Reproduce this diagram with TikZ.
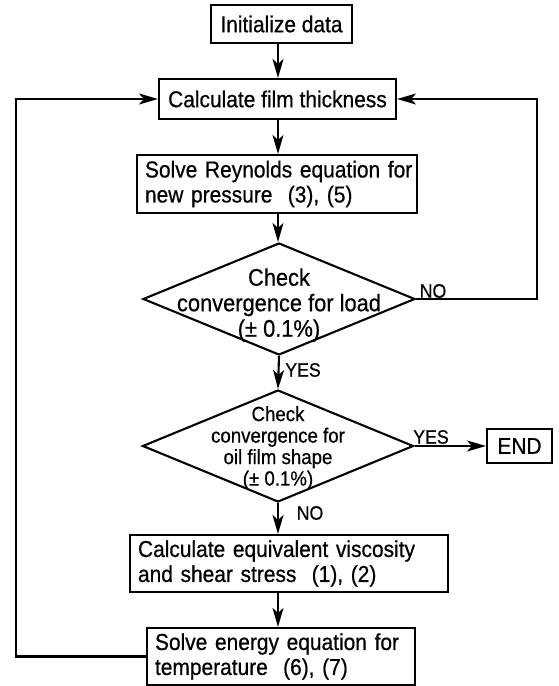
\documentclass[tikz,border=0pt]{standalone}
\usepackage{fontspec}
\setmainfont{Liberation Sans}[FakeStretch=0.91,FakeBold=0.6]
\usetikzlibrary{shapes.geometric,arrows.meta}

\begin{document}
\begin{tikzpicture}[x=1pt,y=-1pt,
  line width=2.1pt,
  every node/.style={font=\fontsize{23}{25}\selectfont},
  arr/.style={-{Stealth[length=19pt,width=11pt,inset=5pt]}},
  box/.style={draw,rectangle,inner sep=0pt,align=center},
  lbox/.style={draw,rectangle,inner xsep=8pt,inner ysep=0pt,align=left},
  decision/.style={draw,diamond,inner sep=0pt},
  dtext/.style={align=center,inner sep=0pt},
  tag/.style={inner sep=0pt,font=\fontsize{19.5}{20}\selectfont}
]
\useasboundingbox (0,0) rectangle (559,686);

% spine of the vertical flow and the two return lines
\coordinate (sp) at (278,0);
\coordinate (rr) at (537,0);
\coordinate (lr) at (16,0);

% process boxes
\node[box,minimum width=141pt,minimum height=38pt] (init) at (281.5,24) {Initialize data};
\node[box,minimum width=237pt,minimum height=40pt] (film) at (277.5,99) {Calculate film thickness};
\node[lbox,text width=264pt,minimum height=58pt] (reyn) at (277,184)
  {\mbox{Solve Reynolds equation for}\\\mbox{new pressure\ \ (3), (5)}};

% decisions
\node[decision,minimum width=272pt,minimum height=112pt] (load) at (279,299) {};
\node[dtext,font=\fontsize{24}{25.5}\selectfont] (loadt) at (279,305)
  {Check\\convergence for load\\(± 0.1\%)};
\node[decision,minimum width=271pt,minimum height=112pt] (shape) at (278,446) {};
\node[dtext,font=\fontsize{20.5}{21.5}\selectfont] (shapet) at (278,448)
  {Check\\convergence for\\oil film shape\\(± 0.1\%)};

\node[box,minimum width=65pt,minimum height=34pt] (end) at (519.5,446) {END};

\node[lbox,text width=302pt,minimum height=57pt] (visc) at (289,563.5)
  {\mbox{Calculate equivalent viscosity}\\\mbox{and shear stress\ \ (1), (2)}};
\node[lbox,text width=252pt,minimum height=57pt] (energy) at (281,656.5)
  {\mbox{Solve energy equation for}\\\mbox{temperature\ \ (6), (7)}};

% main flow
\draw[arr] (init.south -| sp) -- (film.north -| sp);
\draw[arr] (film.south -| sp) -- (reyn.north -| sp);
\draw[arr] (reyn.south -| sp) -- (load.north -| sp);
\draw[arr] (load.south) -- (shape.north);
\draw[arr] (shape.south) -- (visc.north -| sp);
\draw[arr] (visc.south -| sp) -- (energy.north -| sp);
\draw[arr] (shape.east) -- (end.west);

% return loops
\draw[arr] (load.east) -- (load.east -| rr) |- (film.east);
\draw[arr] (energy.west) -- (energy.west -| lr) |- (film.west);

% branch labels
\node[tag] (yes1) at (303,370) {YES};
\node[tag] (no1) at (433,291) {NO};
\node[tag] (yes2) at (431,437) {YES};
\node[tag] (no2) at (310,513) {NO};
\end{tikzpicture}
\end{document}
